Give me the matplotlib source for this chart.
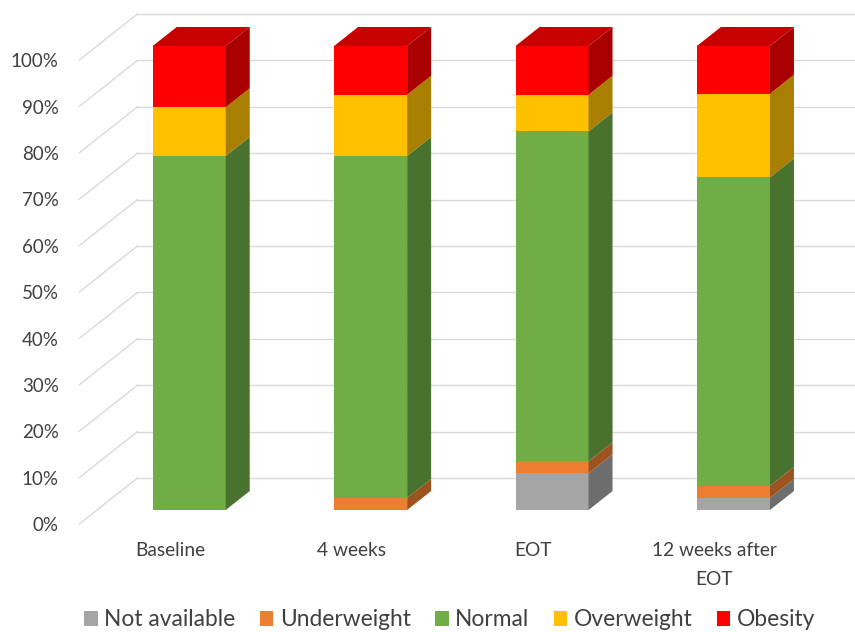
import matplotlib.pyplot as plt
from matplotlib.patches import Polygon, Patch

plt.rcParams['font.family'] = ['Lato', 'DejaVu Sans']

categories = ["Baseline", "4 weeks", "EOT", "12 weeks after\nEOT"]
series_names = ["Not available", "Underweight", "Normal", "Overweight", "Obesity"]
not_available = [0.0, 0.0, 7.9, 2.6]
underweight = [0.0, 2.6, 2.6, 2.6]
normal = [76.3, 73.7, 71.1, 66.5]
overweight = [10.5, 13.2, 7.9, 18.0]
obesity = [13.2, 10.5, 10.5, 10.3]
yticks = [0, 10, 20, 30, 40, 50, 60, 70, 80, 90, 100]

colors = ["#A5A5A5", "#ED7D31", "#70AD47", "#FFC000", "#FF0000"]


def shade(c, f):
    c = c.lstrip("#")
    return tuple(int(c[i:i + 2], 16) / 255 * f for i in (0, 2, 4))


# oblique "3D" look: offset per unit of depth, in data units
DX, DY = 0.1323, 4.095
W = 0.4024

fig = plt.figure(figsize=(8.55, 6.32), dpi=100)
ax = fig.add_axes([0, 0, 1, 1])
ax.set_xlim(-1.043, 3.670)
ax.set_ylim(-26.29, 109.91)
ax.set_axis_off()

# walls with gridlines
xw, zf, zb = -0.508, -0.74, 1.68
grid = "#D9D9D9"
for v in yticks:
    ax.plot([xw + zf * DX, xw + zb * DX], [v + zf * DY, v + zb * DY],
            color=grid, lw=1, zorder=1)
    ax.plot([xw + zb * DX, 3.67], [v + zb * DY, v + zb * DY],
            color=grid, lw=1, zorder=1)
    ax.text(-0.72, v - 3.4, f"{v}%", ha="right", va="center",
            fontsize=13.5, color="#404040")

data = [not_available, underweight, normal, overweight, obesity]
for i in range(len(categories)):
    x0 = i - W / 2
    x1 = i + W / 2
    base = 0.0
    top_color = None
    for s, vals in enumerate(data):
        h = vals[i]
        if h <= 0:
            continue
        y0, y1 = base, base + h
        ax.add_patch(Polygon([(x0, y0), (x1, y0), (x1, y1), (x0, y1)],
                             closed=True, fc=colors[s], ec="none", zorder=3))
        ax.add_patch(Polygon([(x1, y0), (x1 + DX, y0 + DY),
                              (x1 + DX, y1 + DY), (x1, y1)],
                             closed=True, fc=shade(colors[s], 0.66),
                             ec="none", zorder=3))
        base = y1
        top_color = colors[s]
    ax.add_patch(Polygon([(x0, base), (x1, base), (x1 + DX, base + DY),
                          (x0 + DX, base + DY)],
                         closed=True, fc=shade(top_color, 0.78),
                         ec="none", zorder=3))
    ax.text(i - 0.106, -6.9, categories[i], ha="center", va="top",
            fontsize=13.8, color="#404040", linespacing=1.85)

handles = [Patch(fc=c, ec="none") for c in colors]
fig.legend(handles, series_names, loc="lower center", ncol=5,
           bbox_to_anchor=(0.526, -0.03), frameon=False, fontsize=16.4,
           handlelength=0.6, handleheight=0.6, handletextpad=0.3,
           columnspacing=1.05, labelcolor="#404040")

fig.savefig("out.png", dpi=100)
